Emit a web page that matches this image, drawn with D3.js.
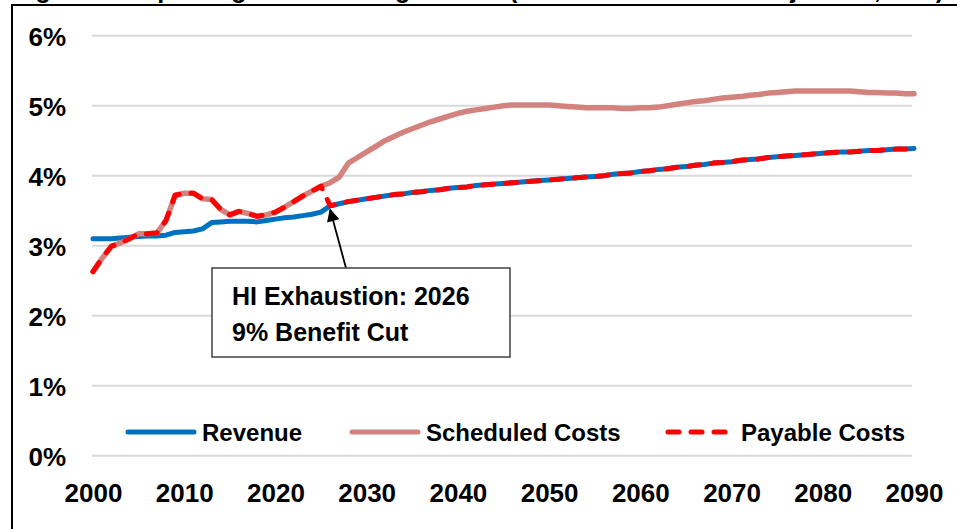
<!DOCTYPE html>
<html>
<head>
	<meta charset="utf-8">
	<script src="https://cdn.jsdelivr.net/npm/d3@7"></script>
	<style>
		body { margin: 0; background: #fff; }
		svg text { font-family: "Liberation Sans", Arial, sans-serif; font-weight: bold; fill: #000; }
	</style>
</head>
<body>
	<div id="chart"></div>

	<script>
		// HI revenue vs. costs, percent of GDP
		var years = d3.range(2000, 2091);

		var revenue = [
			3.10, 3.10, 3.10, 3.11, 3.12, 3.13, 3.14, 3.14, 3.15, 3.19,
			3.20, 3.21, 3.24, 3.33, 3.34, 3.35, 3.35, 3.35, 3.34, 3.36,
			3.38, 3.40, 3.41, 3.43, 3.45, 3.48, 3.57, 3.60, 3.63, 3.65,
			3.67, 3.69, 3.71, 3.73, 3.74, 3.76, 3.77, 3.79, 3.80, 3.82,
			3.83, 3.84, 3.86, 3.87, 3.88, 3.89, 3.90, 3.91, 3.92, 3.93,
			3.94, 3.95, 3.96, 3.97, 3.98, 3.99, 4.00, 4.02, 4.03, 4.04,
			4.06, 4.07, 4.09, 4.10, 4.12, 4.13, 4.15, 4.16, 4.18, 4.19,
			4.20, 4.22, 4.23, 4.24, 4.26, 4.27, 4.28, 4.29, 4.30, 4.31,
			4.32, 4.33, 4.34, 4.34, 4.35, 4.36, 4.36, 4.37, 4.38, 4.38,
			4.39
		];

		var scheduled = [
			2.63, 2.82, 2.99, 3.04, 3.10, 3.17, 3.17, 3.18, 3.36, 3.72,
			3.75, 3.75, 3.67, 3.66, 3.52, 3.44, 3.49, 3.46, 3.42, 3.44,
			3.48, 3.55, 3.63, 3.71, 3.78, 3.85, 3.90, 3.98, 4.18, 4.26,
			4.34, 4.42, 4.50, 4.56, 4.62, 4.67, 4.72, 4.77, 4.81, 4.85,
			4.89, 4.92, 4.94, 4.96, 4.98, 5.00, 5.01, 5.01, 5.01, 5.01,
			5.01, 5.00, 4.99, 4.98, 4.97, 4.97, 4.97, 4.97, 4.96, 4.96,
			4.97, 4.97, 4.98, 5.00, 5.02, 5.04, 5.06, 5.07, 5.09, 5.11,
			5.12, 5.13, 5.15, 5.16, 5.18, 5.19, 5.20, 5.21, 5.21, 5.21,
			5.21, 5.21, 5.21, 5.21, 5.20, 5.19, 5.19, 5.18, 5.18, 5.17,
			5.17
		];

		// payable = scheduled until trust fund exhaustion (2026), then revenue
		var payable = [
			2.63, 2.82, 2.99, 3.04, 3.10, 3.17, 3.17, 3.18, 3.36, 3.72,
			3.75, 3.75, 3.67, 3.66, 3.52, 3.44, 3.49, 3.46, 3.42, 3.44,
			3.48, 3.55, 3.63, 3.71, 3.78, 3.85, 3.57, 3.60, 3.63, 3.65,
			3.67, 3.69, 3.71, 3.73, 3.74, 3.76, 3.77, 3.79, 3.80, 3.82,
			3.83, 3.84, 3.86, 3.87, 3.88, 3.89, 3.90, 3.91, 3.92, 3.93,
			3.94, 3.95, 3.96, 3.97, 3.98, 3.99, 4.00, 4.02, 4.03, 4.04,
			4.06, 4.07, 4.09, 4.10, 4.12, 4.13, 4.15, 4.16, 4.18, 4.19,
			4.20, 4.22, 4.23, 4.24, 4.26, 4.27, 4.28, 4.29, 4.30, 4.31,
			4.32, 4.33, 4.34, 4.34, 4.35, 4.36, 4.36, 4.37, 4.38, 4.38,
			4.39
		];

		var xTicks = [2000, 2010, 2020, 2030, 2040, 2050, 2060, 2070, 2080, 2090];
		var yTicks = [0, 1, 2, 3, 4, 5, 6];

		var seriesNames = ["Revenue", "Scheduled Costs", "Payable Costs"];
		var exhaustionYear = 2026;
		var noteLines = ["HI Exhaustion: 2026", "9% Benefit Cut"];

		var width = 957, height = 529;

		var svg = d3.select("#chart").append("svg")
			.attr("width", width)
			.attr("height", height);

		var x = d3.scaleLinear().domain([2000, 2090]).range([93, 914]);
		var y = d3.scaleLinear().domain([0, 6]).range([455.7, 35.7]);

		// title sits above the crop, only its descenders peek in
		svg.append("text")
			.attr("x", 16)
			.attr("y", -2)
			.attr("textLength", 928)
			.attr("lengthAdjust", "spacing")
			.style("font-size", "25px")
			.text("Figure 2. HI Spending as a Percentage of GDP (Intermediate Trustees Projections, 2019)");

		// frame
		svg.append("path")
			.attr("d", "M12,529 L12,5 L957,5")
			.attr("fill", "none")
			.attr("stroke", "#000")
			.attr("stroke-width", 2);

		// gridlines
		svg.append("g")
			.selectAll("line")
			.data(yTicks)
			.enter().append("line")
			.attr("x1", 92)
			.attr("x2", 912)
			.attr("y1", function(d) { return y(d); })
			.attr("y2", function(d) { return y(d); })
			.attr("stroke", "#D9D9D9")
			.attr("stroke-width", 2);

		// y axis labels
		var yAxis = d3.axisLeft(y)
			.tickValues(yTicks)
			.tickSize(0)
			.tickPadding(0)
			.tickFormat(function(d) { return d + "%"; });

		svg.append("g")
			.attr("transform", "translate(66,0)")
			.call(yAxis)
			.call(function(g) { g.select(".domain").remove(); })
			.selectAll("text")
			.style("font-size", "26px")
			.attr("dy", "0.36em");

		// x axis labels
		var xAxis = d3.axisBottom(x)
			.tickValues(xTicks)
			.tickSize(0)
			.tickPadding(0)
			.tickFormat(d3.format("d"));

		svg.append("g")
			.attr("transform", "translate(0,484)")
			.call(xAxis)
			.call(function(g) { g.select(".domain").remove(); })
			.selectAll("text")
			.style("font-size", "26px")
			.attr("dy", "0.71em");

		var line = d3.line()
			.x(function(d) { return x(d[0]); })
			.y(function(d) { return y(d[1]); });

		function pairs(vals) {
			return years.map(function(yr, i) { return [yr, vals[i]]; });
		}

		var styles = [
			{ color: "#0070C0", dash: null },
			{ color: "#D4827E", dash: null },
			{ color: "#FF0000", dash: "11,12" }
		];

		[revenue, scheduled, payable].forEach(function(vals, i) {
			svg.append("path")
				.datum(pairs(vals))
				.attr("d", line)
				.attr("fill", "none")
				.attr("stroke", styles[i].color)
				.attr("stroke-width", i == 1 ? 5.5 : 5)
				.attr("stroke-linejoin", "round")
				.attr("stroke-linecap", "round")
				.attr("stroke-dasharray", styles[i].dash);
		});

		// legend
		var legendPos = [126, 350, 666];
		var legend = svg.append("g").attr("transform", "translate(0,432)");
		seriesNames.forEach(function(name, i) {
			legend.append("line")
				.attr("x1", legendPos[i] + 2)
				.attr("x2", legendPos[i] + 68)
				.attr("y1", 0)
				.attr("y2", 0)
				.attr("stroke", styles[i].color)
				.attr("stroke-width", 5)
				.attr("stroke-linecap", "round")
				.attr("stroke-dasharray", styles[i].dash);
			legend.append("text")
				.attr("x", legendPos[i] + (i == 2 ? 75 : 76))
				.attr("y", 0)
				.attr("dy", "0.36em")
				.style("font-size", "24px")
				.text(name);
		});

		// annotation
		var tip = [x(exhaustionYear), y(revenue[exhaustionYear - 2000]) + 4];
		var tail = [346, 268];
		svg.append("defs").append("marker")
			.attr("id", "arrow")
			.attr("viewBox", "0 0 10 10")
			.attr("refX", 9)
			.attr("refY", 5)
			.attr("markerWidth", 8)
			.attr("markerHeight", 7)
			.attr("markerUnits", "strokeWidth")
			.attr("orient", "auto")
			.append("path")
			.attr("d", "M0,0 L10,5 L0,10 Z")
			.attr("fill", "#000");

		svg.append("line")
			.attr("x1", tail[0])
			.attr("y1", tail[1])
			.attr("x2", tip[0])
			.attr("y2", tip[1])
			.attr("stroke", "#000")
			.attr("stroke-width", 1.8)
			.attr("marker-end", "url(#arrow)");

		svg.append("rect")
			.attr("x", 212)
			.attr("y", 268)
			.attr("width", 298)
			.attr("height", 89)
			.attr("fill", "#fff")
			.attr("stroke", "#404040")
			.attr("stroke-width", 1.5);

		svg.selectAll(".note")
			.data(noteLines)
			.enter().append("text")
			.attr("class", "note")
			.attr("x", 232)
			.attr("y", function(d, i) { return 305 + i * 36; })
			.style("font-size", "25px")
			.text(function(d) { return d; });
	</script>
</body>
</html>
